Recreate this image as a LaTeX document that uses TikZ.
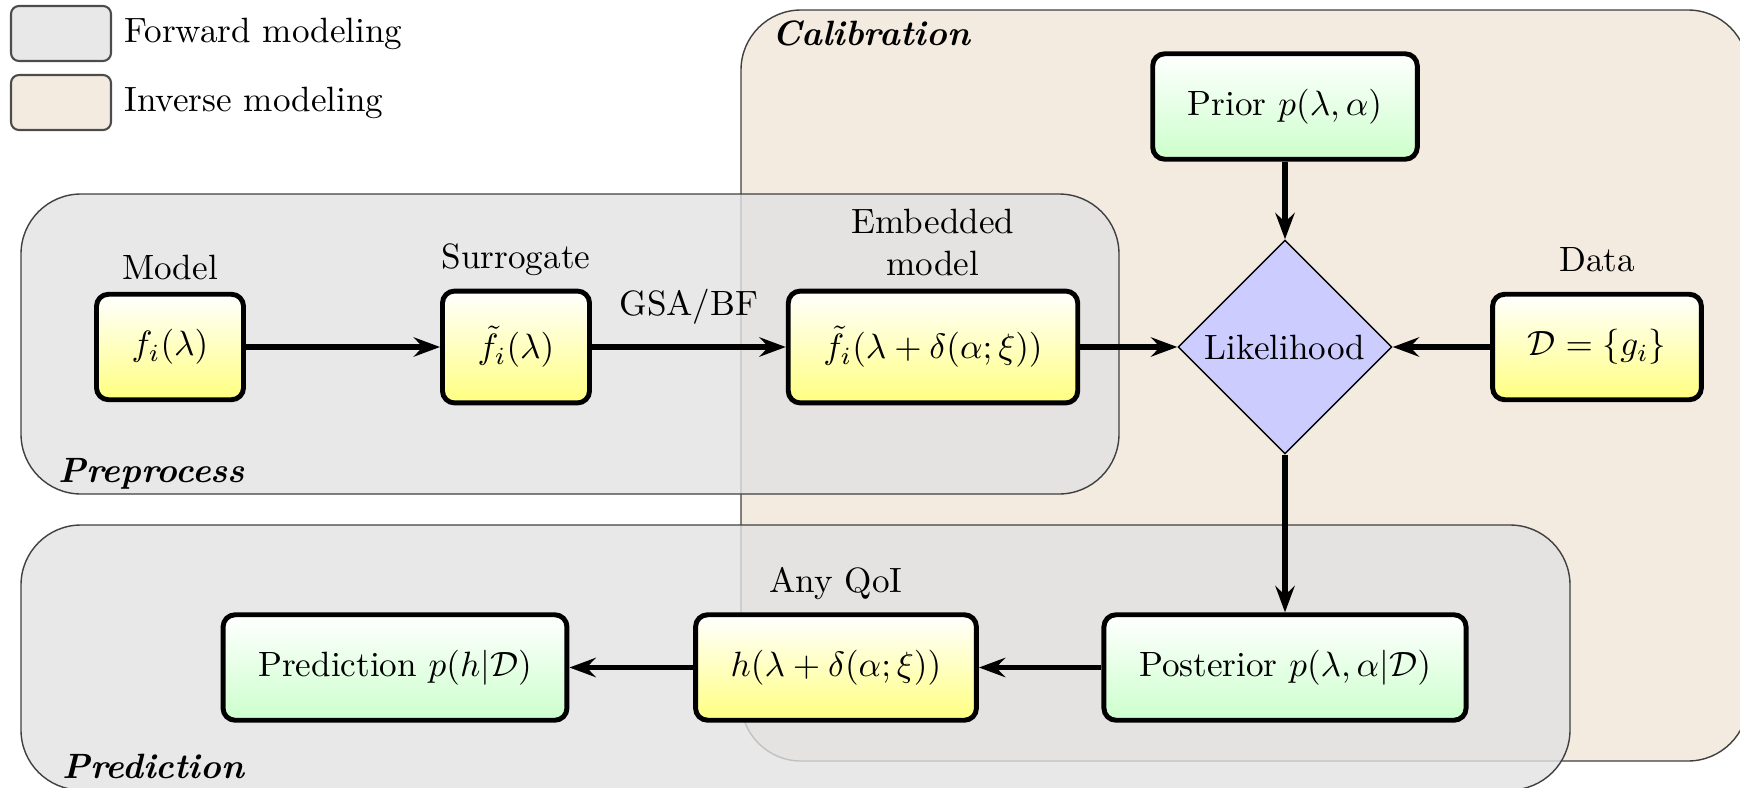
\documentclass[tikz,border=0pt]{standalone}
\usepackage{amssymb}
\usepackage{tikz}
\usetikzlibrary{arrows.meta,positioning,shapes.geometric}
\definecolor{fwdgray}{RGB}{226,226,226}
\definecolor{invbeige}{RGB}{243,235,224}
\tikzset{flow/.style={-{Stealth[length=7.5pt,width=5.5pt,inset=2.6pt]},line width=1.5pt}}
\tikzset{yelbox/.style={draw,line width=1.4pt,rounded corners=0.12cm,inner sep=10pt,top color=white,bottom color=yellow!50}}
\tikzset{grnbox/.style={yelbox,bottom color=green!20}}
\tikzset{region/.style={draw=black!75,rounded corners=0.6cm}}
\tikzset{legbox/.style={draw=black!70,semithick,rounded corners=0.08cm,minimum width=1cm,minimum height=0.55cm}}
\tikzset{tag/.style={anchor=base west,font=\bfseries\itshape}}

\begin{document}
\begin{tikzpicture}
\useasboundingbox(0,0)rectangle(17.40,-7.88);
% legend
\node(fwdKey)[legbox,fill=fwdgray!80]at(0.61,-0.335){};\node(fwdTxt)[right=0pt of fwdKey]{Forward modeling};
\node(invKey)[legbox,fill=invbeige]at(0.61,-1.025){};\node(invTxt)[right=0pt of invKey]{Inverse modeling};
% stages, calibration behind the two forward ones
\draw[region,fill=invbeige](7.41,-0.10)rectangle(17.48,-7.61);
\begin{scope}[fill opacity=.8]
\draw[region,fill=fwdgray](0.21,-1.94)rectangle(11.19,-4.94);
\draw[region,fill=fwdgray](0.21,-5.25)rectangle(15.70,-7.90);
\end{scope}
\node(calTag)[tag]at(7.60,-0.45){Calibration};
\node(preTag)[tag]at(0.46,-4.82){Preprocess};
\node(predTag)[tag]at(0.50,-7.78){Prediction};
% models and distributions
\node(model)[yelbox,label=above:Model]at(1.70,-3.47){$f_i(\lambda)$};
\node(surr)[yelbox,label=above:Surrogate]at(5.16,-3.47){$\tilde f_i(\lambda)$};
\node(emb)[yelbox,label={[align=center]above:Embedded\\model}]at(9.33,-3.47){$\tilde f_i(\lambda+\delta(\alpha;\xi))$};
\node(lik)[diamond,draw,fill=blue!20,inner sep=1pt,minimum width=2.14cm,minimum height=2.14cm]at(12.85,-3.47){Likelihood};
\node(data)[yelbox,label={[label distance=0.08cm]above:Data}]at(15.97,-3.47){$\mathcal{D}=\{g_i\}$};
\node(prior)[grnbox]at(12.85,-1.065){Prior $p(\lambda,\alpha)$};
\node(post)[grnbox]at(12.85,-6.675){Posterior $p(\lambda,\alpha|\mathcal{D})$};
\node(qoi)[yelbox,label=above:Any QoI]at(8.36,-6.675){$h(\lambda+\delta(\alpha;\xi))$};
\node(pred)[grnbox]at(3.95,-6.675){Prediction $p(h|\mathcal{D})$};
% flow
\draw[flow](model)--(surr);\draw[flow](surr)--node(gsa)[above=2.3pt]{GSA/BF}(emb);
\draw[flow](emb)--(lik);\draw[flow](data)--(lik);\draw[flow](prior)--(lik);
\draw[flow](lik)--(post);\draw[flow](post)--(qoi);\draw[flow](qoi)--(pred);
\end{tikzpicture}
\end{document}
